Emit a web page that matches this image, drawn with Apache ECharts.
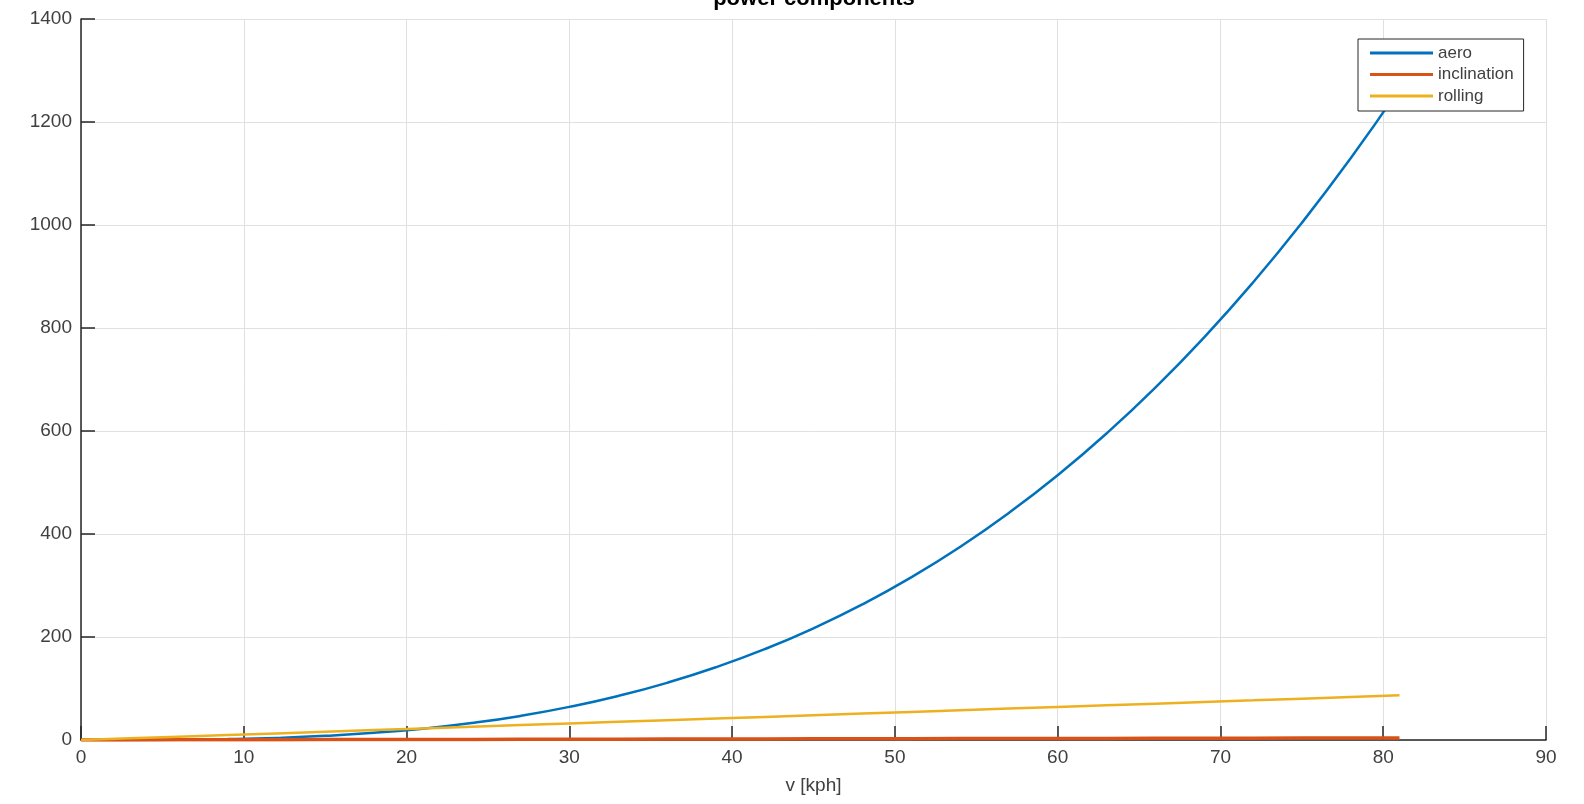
<!DOCTYPE html>
<html>
<head>
<meta charset="utf-8">
<script src="https://cdn.jsdelivr.net/npm/echarts@6/dist/echarts.min.js"></script>
<style>
html,body{margin:0;padding:0;background:#fff;}
#chart{width:1584px;height:804px;}
</style>
</head>
<body>
<div id="chart"></div>
<script>
// speed in kph
const speeds = [0,3,6,9,12,15,18,21,24,27,30,33,36,39,42,45,48,51,54,57,60,63,66,69,72,75,78,81];
// power components (W)
const aero = [0,0.06,0.51,1.74,4.11,8.03,13.9,22.0,32.9,46.8,64.3,85.5,111.0,141.2,176.3,216.9,263.2,315.7,374.8,440.8,514.1,595.1,684.2,781.8,888.3,1004.1,1129.4,1264.8];
const inclination = [0,0.15,0.3,0.45,0.6,0.75,0.9,1.05,1.2,1.35,1.5,1.65,1.8,1.95,2.1,2.25,2.4,2.55,2.7,2.85,3.0,3.15,3.3,3.45,3.6,3.75,3.9,4.05];
const rolling = [0,3.2,6.4,9.6,12.8,16.1,19.3,22.5,25.7,28.9,32.1,35.3,38.5,41.7,44.9,48.2,51.4,54.6,57.8,61.0,64.2,67.4,70.6,73.8,77.0,80.3,83.5,86.7];
const seriesNames = ['aero','inclination','rolling'];
const colors = ['#0072BD','#D95319','#EDB120'];
const titleText = 'power components';
const xLabel = 'v [kph]';

const pair = arr => speeds.map((v,i)=>[v,arr[i]]);
const chart = echarts.init(document.getElementById('chart'));
const font = 'Liberation Sans, Arial, sans-serif';
chart.setOption({
  animation:false,
  title:{text:titleText,left:814,textAlign:'center',top:-12,padding:0,
    textStyle:{fontFamily:font,fontSize:22,fontWeight:'bold',color:'#000'}},
  grid:{left:81,right:38,top:19,bottom:64,containLabel:false},
  legend:{orient:'vertical',left:1358,top:39,padding:[5,10,6,12],
    backgroundColor:'#fff',borderColor:'#262626',borderWidth:1,borderRadius:0,
    icon:'rect',itemWidth:63,itemHeight:3,itemGap:3.5,itemTextGap:5,
    textStyle:{fontFamily:font,fontSize:17,lineHeight:18,color:'#404040'},
    data:seriesNames},
  xAxis:{type:'value',min:0,max:90,interval:10,
    name:xLabel,nameLocation:'middle',nameGap:36,
    nameTextStyle:{fontFamily:font,fontSize:19,color:'#404040'},
    axisLine:{show:true,lineStyle:{color:'#262626',width:1.5}},
    axisTick:{show:true,inside:true,length:14,lineStyle:{color:'#262626',width:1.5}},
    axisLabel:{fontFamily:font,fontSize:19,color:'#404040',margin:8},
    splitLine:{show:true,lineStyle:{color:'#e0e0e0',width:1}}},
  yAxis:{type:'value',min:0,max:1400,interval:200,
    axisLine:{show:true,lineStyle:{color:'#262626',width:1.5}},
    axisTick:{show:true,inside:true,length:14,lineStyle:{color:'#262626',width:1.5}},
    axisLabel:{fontFamily:font,fontSize:19,color:'#404040',margin:9,formatter:v=>String(v)},
    splitLine:{show:true,lineStyle:{color:'#e0e0e0',width:1}}},
  series:[
    {name:seriesNames[0],type:'line',data:pair(aero),smooth:true,showSymbol:false,
      lineStyle:{width:2.5,color:colors[0]},itemStyle:{color:colors[0]}},
    {name:seriesNames[1],type:'line',data:pair(inclination),showSymbol:false,
      lineStyle:{width:3.5,color:colors[1]},itemStyle:{color:colors[1]}},
    {name:seriesNames[2],type:'line',data:pair(rolling),showSymbol:false,
      lineStyle:{width:2.5,color:colors[2]},itemStyle:{color:colors[2]}}
  ]
});
</script>
</body>
</html>
